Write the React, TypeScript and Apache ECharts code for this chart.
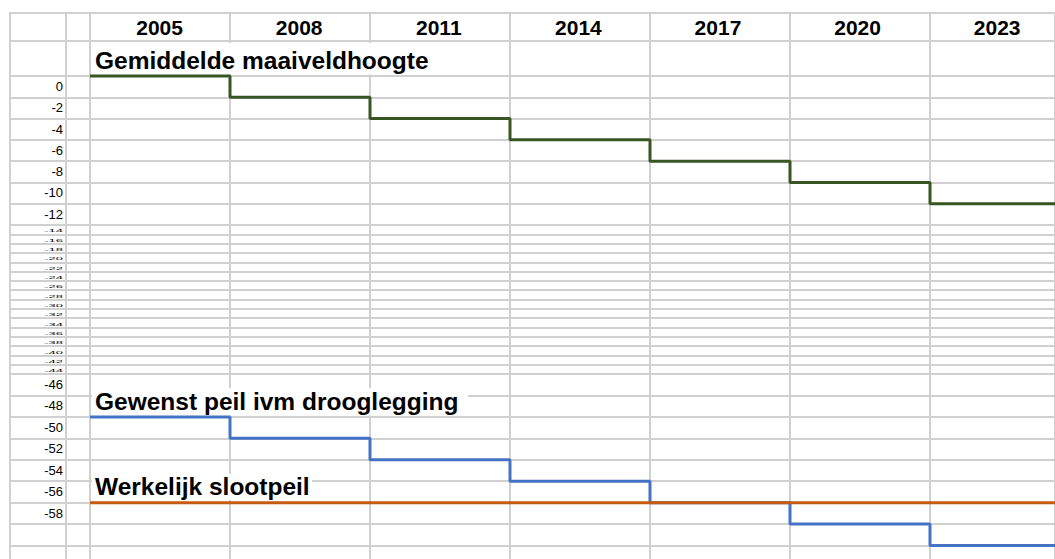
import React, { useEffect, useRef } from 'react';
import * as echarts from 'echarts';

// ---- data ----
const years = ['2005', '2008', '2011', '2014', '2017', '2020', '2023'];
const yearValues = [2005, 2008, 2011, 2014, 2017, 2020, 2023];
const yearStep = 3;
const maaiveld = [0, -2, -4, -6, -8, -10, -12];
const gewenst = [-50, -52, -54, -56, -58, -60, -62];
const slootpeil = [-58, -58, -58, -58, -58, -58, -58];
const topRowLabels = [0, -2, -4, -6, -8, -10, -12];
const midRowLabels = [-14, -16, -18, -20, -22, -24, -26, -28, -30, -32, -34, -36, -38, -40, -42, -44];
const bottomRowLabels = [-46, -48, -50, -52, -54, -56, -58];
const titleMaaiveld = 'Gemiddelde maaiveldhoogte';
const titleGewenst = 'Gewenst peil ivm drooglegging';
const titleSlootpeil = 'Werkelijk slootpeil';

// ---- layout ----
const W = 1055;
const H = 559;
const DATA_LEFT = 90;
const COL_PX = 140;
const xMaxShown = yearValues[0] + ((W - DATA_LEFT) / COL_PX) * yearStep;

const GRID = '#d0d0d0';
const FONT = '"Liberation Sans", Arial, sans-serif';

const stepData = (vals: number[]) => [
  ...yearValues.map((y, i) => [y, vals[i]]),
  [xMaxShown, vals[vals.length - 1]],
];

const rowAxisLabel = (labels: number[]) => ({
  inside: true,
  align: 'right',
  margin: 53,
  verticalAlign: 'top',
  lineHeight: 21,
  fontSize: 13,
  fontFamily: FONT,
  color: '#000',
  showMinLabel: true,
  showMaxLabel: true,
  formatter: (v: number) => (labels.indexOf(v) >= 0 ? String(v) : ''),
});

const splitLine = { show: true, lineStyle: { color: GRID, width: 2 } };

const hiddenValue = (grid: number, min: number, max: number) => ({
  type: 'value', gridIndex: grid, min, max, show: false,
});

const titleBox = (text: string, cy: number, x2: number, y1: number, y2: number) => ({
  type: 'group',
  children: [
    { type: 'rect', z: 3, shape: { x: 92, y: y1, width: x2 - 92, height: y2 - y1 }, style: { fill: '#fff' } },
    {
      type: 'text', z: 4,
      style: {
        text, x: 95, y: cy,
        font: `bold 24.5px ${FONT}`,
        fill: '#000',
        align: 'left', verticalAlign: 'middle',
        textAlign: 'left', textVerticalAlign: 'middle',
      },
    },
  ],
});

export default function App() {
  const ref = useRef<HTMLDivElement>(null);
  useEffect(() => {
    if (!ref.current) return;
    const chart = echarts.init(ref.current, undefined, { renderer: 'svg' });
    const labelMin = yearValues[0] - yearStep / 2;
    const option: any = {
      animation: false,
      backgroundColor: '#ffffff',
      grid: [
        { left: DATA_LEFT, top: 13, width: W - DATA_LEFT, height: H - 13 }, // 0 column lines
        { left: DATA_LEFT - COL_PX / 2, top: 13, width: W - DATA_LEFT + COL_PX / 2, height: H - 13 }, // 1 year labels
        { left: 10, top: 76, width: W - 10, height: 149 }, // 2 top rows
        { left: DATA_LEFT, top: 76, width: W - DATA_LEFT, height: 149 }, // 3 top data
        { left: 10, top: 225, width: W - 10, height: 149 }, // 4 middle rows
        { left: 10, top: 374, width: W - 10, height: 171.5 }, // 5 bottom rows
        { left: DATA_LEFT, top: 374, width: W - DATA_LEFT, height: 171.5 }, // 6 bottom data
      ],
      xAxis: [
        {
          type: 'value', gridIndex: 0, min: yearValues[0], max: xMaxShown, interval: yearStep,
          axisLine: { show: false }, axisTick: { show: false }, axisLabel: { show: false },
          splitLine,
        },
        {
          type: 'value', gridIndex: 1, min: labelMin, max: xMaxShown, interval: yearStep,
          position: 'top',
          axisLine: { show: false }, axisTick: { show: false }, splitLine: { show: false },
          axisLabel: {
            inside: true, margin: 14.7, verticalAlign: 'middle',
            fontSize: 21, fontWeight: 'bold', fontFamily: FONT, color: '#000',
            showMinLabel: true, showMaxLabel: true,
            formatter: (v: number) => {
              const i = yearValues.indexOf(Math.round(v - yearStep / 2));
              return i >= 0 ? years[i] : '';
            },
          },
        },
        hiddenValue(2, 0, 1),
        hiddenValue(3, yearValues[0], xMaxShown),
        hiddenValue(4, 0, 1),
        hiddenValue(5, 0, 1),
        hiddenValue(6, yearValues[0], xMaxShown),
      ],
      yAxis: [
        hiddenValue(0, 0, 1),
        hiddenValue(1, 0, 1),
        {
          type: 'value', gridIndex: 2, min: -14, max: 0, interval: 2,
          axisLine: { show: false }, axisTick: { show: false },
          axisLabel: rowAxisLabel(topRowLabels), splitLine,
        },
        hiddenValue(3, -14, 0),
        {
          type: 'value', gridIndex: 4, min: -46, max: -14, interval: 2,
          axisLine: { show: false }, axisTick: { show: false },
          axisLabel: { show: false }, splitLine,
        },
        {
          type: 'value', gridIndex: 5, min: -62, max: -46, interval: 2,
          axisLine: { show: false }, axisTick: { show: false },
          axisLabel: rowAxisLabel(bottomRowLabels), splitLine,
        },
        hiddenValue(6, -62, -46),
      ],
      graphic: [
        { type: 'line', z: 1, shape: { x1: 10, y1: 13, x2: W, y2: 13 }, style: { stroke: GRID, lineWidth: 2 } },
        { type: 'line', z: 1, shape: { x1: 10, y1: 41, x2: W, y2: 41 }, style: { stroke: GRID, lineWidth: 2 } },
        { type: 'line', z: 1, shape: { x1: 10, y1: 12, x2: 10, y2: H }, style: { stroke: GRID, lineWidth: 2 } },
        { type: 'line', z: 1, shape: { x1: 66, y1: 12, x2: 66, y2: H }, style: { stroke: GRID, lineWidth: 2 } },
        titleBox(titleMaaiveld, 60.2, 434, 43, 74.5),
        titleBox(titleGewenst, 401, 468, 388, 415.5),
        titleBox(titleSlootpeil, 486.3, 312, 474, 500),
      ],
      series: [
        {
          type: 'custom', xAxisIndex: 4, yAxisIndex: 4, z: 3, clip: false, silent: true,
          data: midRowLabels.map((v) => [0, v]),
          renderItem: (params: any, api: any) => {
            const v = api.value(1) as number;
            const left = params.coordSys.x;
            const yb = api.coord([0, v - 2])[1];
            return {
              type: 'text',
              x: left + 53,
              y: yb - 3.4,
              scaleY: 0.33,
              style: {
                text: String(v), x: 0, y: 0,
                align: 'right', verticalAlign: 'middle',
                font: `13px ${FONT}`, fill: '#000',
              },
            };
          },
        },
        {
          name: titleMaaiveld, type: 'line', xAxisIndex: 3, yAxisIndex: 3, step: 'end',
          data: stepData(maaiveld), symbol: 'none', clip: false,
          lineStyle: { color: '#375623', width: 3 }, itemStyle: { color: '#375623' },
        },
        {
          name: titleGewenst, type: 'line', xAxisIndex: 6, yAxisIndex: 6, step: 'end',
          data: stepData(gewenst), symbol: 'none', clip: false,
          lineStyle: { color: '#4472c4', width: 3 }, itemStyle: { color: '#4472c4' },
        },
        {
          name: titleSlootpeil, type: 'line', xAxisIndex: 6, yAxisIndex: 6, step: 'end',
          data: stepData(slootpeil), symbol: 'none', clip: false,
          lineStyle: { color: '#c55a11', width: 3 }, itemStyle: { color: '#c55a11' },
        },
      ],
    };
    chart.setOption(option);
    return () => chart.dispose();
  }, []);
  return (
    <div style={{ position: 'fixed', left: 0, top: 0, width: W, height: H, overflow: 'hidden', background: '#fff' }}>
      <div ref={ref} style={{ width: W, height: H, overflow: 'hidden' }} />
    </div>
  );
}
